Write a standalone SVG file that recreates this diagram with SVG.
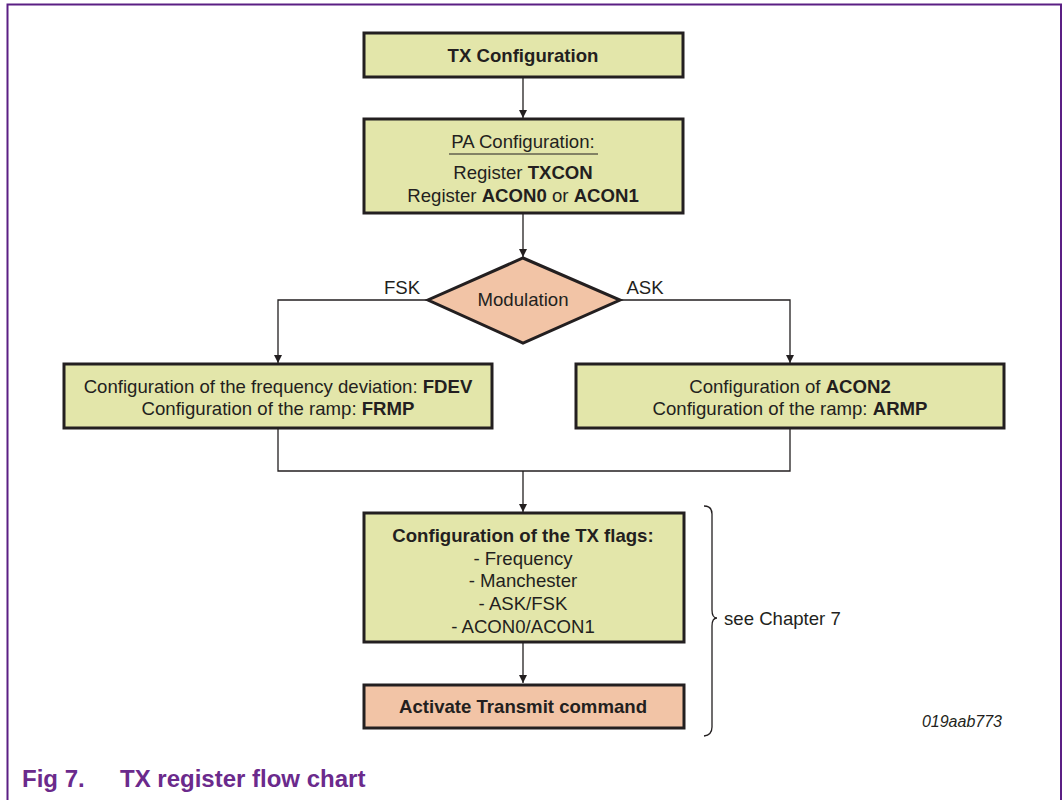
<svg xmlns="http://www.w3.org/2000/svg" width="1063" height="800" viewBox="0 0 1063 800">
  <style>
    .box { fill: #e3e6aa; stroke: #231f20; stroke-width: 3; }
    .act { fill: #f2c4a6; stroke: #231f20; stroke-width: 3; }
    .t { font-family: "Liberation Sans", Arial, sans-serif; font-size: 18.6px; fill: #231f20; text-anchor: middle; }
    .b { font-weight: bold; }
    .line { fill: none; stroke: #231f20; stroke-width: 1.3; }
    .cap { font-family: "Liberation Sans", Arial, sans-serif; font-size: 24px; font-weight: bold; fill: #6b2a8c; }
  </style>
  <defs>
    <marker id="arr" markerWidth="8" markerHeight="10" refX="8" refY="5" orient="auto" markerUnits="userSpaceOnUse">
      <path d="M0,1 L8,5 L0,9 Z" fill="#231f20"/>
    </marker>
  </defs>

  <rect width="1063" height="800" fill="#ffffff"/>
  <!-- figure frame -->
  <path d="M7.5,805 V4.5 H1061 V805" fill="none" stroke="#5b1f84" stroke-width="2"/>

  <!-- connectors -->
  <g id="connectors">
    <line class="line" x1="523" y1="77" x2="523" y2="118" marker-end="url(#arr)"/>
    <line class="line" x1="523" y1="213" x2="523" y2="257" marker-end="url(#arr)"/>
    <polyline class="line" points="428,300 278,300 278,363" marker-end="url(#arr)"/>
    <polyline class="line" points="620,300 790,300 790,363" marker-end="url(#arr)"/>
    <polyline class="line" points="278,429 278,471 790,471 790,429"/>
    <line class="line" x1="523" y1="471" x2="523" y2="512" marker-end="url(#arr)"/>
    <line class="line" x1="523" y1="643" x2="523" y2="683" marker-end="url(#arr)"/>
    <text class="t" x="402" y="294">FSK</text>
    <text class="t" x="645" y="294">ASK</text>
  </g>

  <g id="tx-config">
    <rect class="box" x="364" y="33" width="319" height="44"/>
    <text class="t b" x="523" y="62">TX Configuration</text>
  </g>

  <g id="pa-config">
    <rect class="box" x="364" y="119" width="319" height="94"/>
    <text class="t" x="523" y="148">PA Configuration:</text>
    <line x1="449" y1="154" x2="598" y2="154" stroke="#231f20" stroke-width="1"/>
    <text class="t" x="523" y="179">Register <tspan class="b">TXCON</tspan></text>
    <text class="t" x="523" y="202">Register <tspan class="b">ACON0</tspan> or <tspan class="b">ACON1</tspan></text>
  </g>

  <g id="modulation">
    <polygon class="act" points="523,258 620,300 523,343 428,300"/>
    <text class="t" x="523" y="306">Modulation</text>
  </g>

  <g id="fsk-config">
    <rect class="box" x="64" y="364" width="428" height="64"/>
    <text class="t" x="278" y="393">Configuration of the frequency deviation: <tspan class="b">FDEV</tspan></text>
    <text class="t" x="278" y="415">Configuration of the ramp: <tspan class="b">FRMP</tspan></text>
  </g>

  <g id="ask-config">
    <rect class="box" x="576" y="364" width="428" height="64"/>
    <text class="t" x="790" y="393">Configuration of <tspan class="b">ACON2</tspan></text>
    <text class="t" x="790" y="415">Configuration of the ramp: <tspan class="b">ARMP</tspan></text>
  </g>

  <g id="tx-flags">
    <rect class="box" x="364" y="513" width="320" height="129"/>
    <text class="t b" x="523" y="542">Configuration of the TX flags:</text>
    <text class="t" x="523" y="565">- Frequency</text>
    <text class="t" x="523" y="587">- Manchester</text>
    <text class="t" x="523" y="610">- ASK/FSK</text>
    <text class="t" x="523" y="633">- ACON0/ACON1</text>
  </g>

  <g id="transmit">
    <rect class="act" x="364" y="685" width="320" height="43"/>
    <text class="t b" x="523" y="713">Activate Transmit command</text>
  </g>

  <g id="chapter-note">
    <path d="M704,506 Q712,506 712,514 V610 Q712,618 717,618 Q712,618 712,626 V727 Q712,735 704,736" fill="none" stroke="#231f20" stroke-width="1.3"/>
    <text class="t" x="724" y="625" style="text-anchor:start">see Chapter 7</text>
  </g>

  <text x="1002" y="727" font-family="'Liberation Sans', Arial, sans-serif" font-size="16" font-style="italic" fill="#231f20" text-anchor="end">019aab773</text>

  <text class="cap" x="22" y="787">Fig 7.</text>
  <text class="cap" x="120" y="787">TX register flow chart</text>
</svg>
